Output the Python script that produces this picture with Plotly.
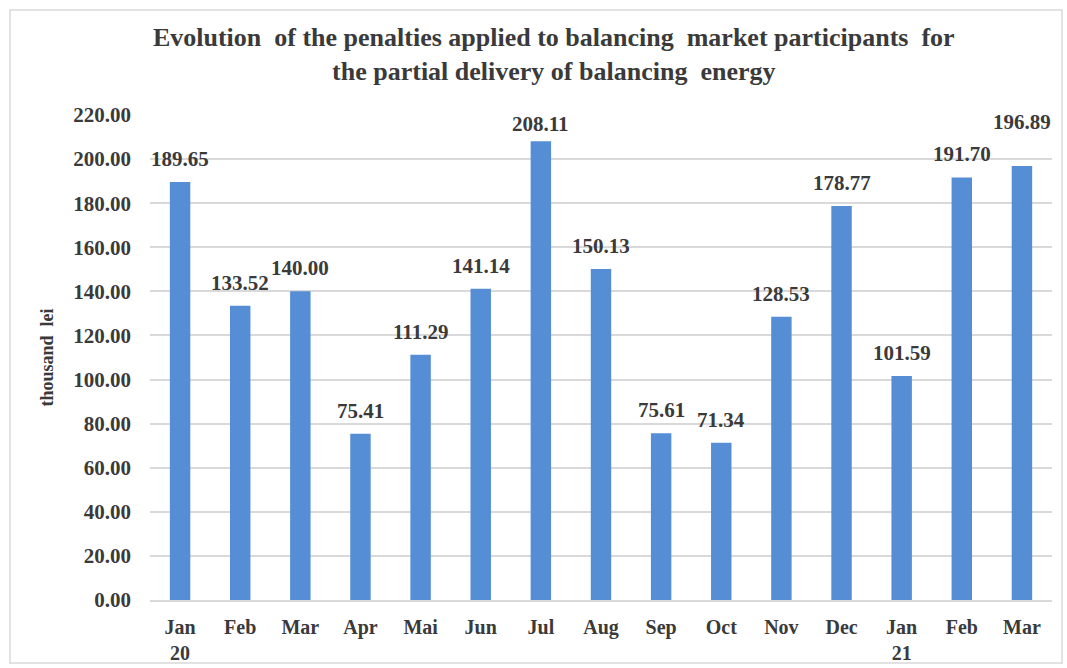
import plotly.graph_objects as go

months = ["Jan<br>20", "Feb", "Mar", "Apr", "Mai", "Jun", "Jul", "Aug", "Sep", "Oct",
          "Nov", "Dec", "Jan<br>21", "Feb", "Mar"]
values = [189.65, 133.52, 140.00, 75.41, 111.29, 141.14, 208.11, 150.13, 75.61, 71.34,
          128.53, 178.77, 101.59, 191.70, 196.89]
y_ticks = [0, 20, 40, 60, 80, 100, 120, 140, 160, 180, 200, 220]
# extra pixel lift of individual data labels (as placed in the original)
label_lift = [0, 0, 0, 0, 0, 0, -6, 0, 0, 0, 0, 0, 0, 0, 21]

xpos = list(range(len(months)))
font_family = "Liberation Serif"
dark = "#3a3a3a"

fig = go.Figure()
fig.add_trace(go.Bar(
    x=xpos, y=values,
    marker=dict(color="#558ED5", line=dict(width=0)),
    width=0.34,
    hoverinfo="x+y",
))

for xi, v, lift in zip(xpos, values, label_lift):
    fig.add_annotation(
        x=xi, y=v, xref="x", yref="y",
        text=f"<b>{v:.2f}</b>", showarrow=False,
        xanchor="center", yanchor="bottom", yshift=9 + lift,
        font=dict(family=font_family, size=21, color=dark),
    )

fig.update_layout(
    width=1067, height=668,
    margin=dict(l=150, r=15, t=115, b=68),
    paper_bgcolor="white", plot_bgcolor="white",
    showlegend=False,
    title=dict(
        text="<b>Evolution  of the penalties applied to balancing  market participants  for<br>the partial delivery of balancing  energy</b>",
        x=0.519, xanchor="center", y=0.931, yanchor="top",
        font=dict(family=font_family, size=26, color=dark),
    ),
    xaxis=dict(
        tickmode="array", tickvals=xpos,
        ticktext=[f"<b>{m}</b>" for m in months],
        range=[-0.5, len(months) - 0.5],
        tickfont=dict(family=font_family, size=20, color=dark),
        showgrid=False, showline=True, linecolor="#d9d9d9", linewidth=1.5,
        ticks="", zeroline=False, ticklabelstandoff=8, automargin=False,
    ),
    yaxis=dict(
        range=[0, 220], tickmode="array", tickvals=y_ticks,
        ticktext=[f"<b>{t:.2f}</b>" for t in y_ticks],
        tickfont=dict(family=font_family, size=21, color=dark),
        showgrid=True, gridcolor="#d9d9d9", gridwidth=1.5,
        zeroline=False, ticks="", ticklen=0, ticklabelstandoff=18, automargin=False,
        title=dict(text="<b>thousand  lei</b>", font=dict(family=font_family, size=18, color=dark), standoff=14),
    ),
)

fig.add_shape(type="rect", xref="paper", yref="paper",
              x0=-140/902, x1=1+10/902, y0=-63/485, y1=1+105/485,
              line=dict(color="#d9d9d9", width=1.5), fillcolor="rgba(0,0,0,0)", layer="below")

fig.write_html("out.html", config={"displayModeBar": False})

with open("out.html", "r", encoding="utf-8") as f:
    html = f.read()
html = html.replace("<body>", '<body style="margin:0;padding:0;overflow:hidden">', 1)
with open("out.html", "w", encoding="utf-8") as f:
    f.write(html)
